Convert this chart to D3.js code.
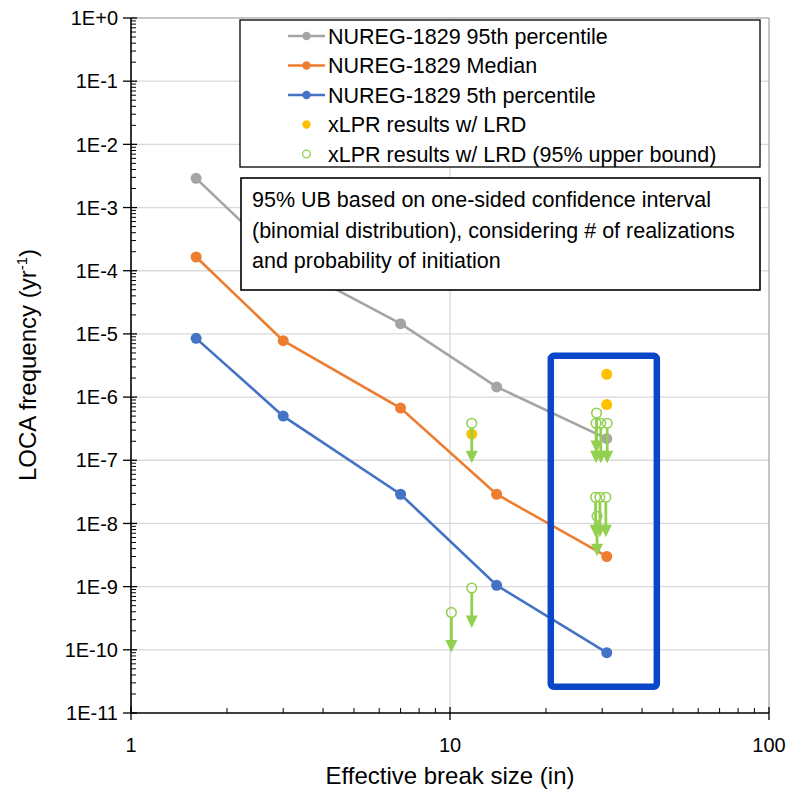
<!DOCTYPE html>
<html>
<head>
<script src="https://cdnjs.cloudflare.com/ajax/libs/d3/7.8.5/d3.min.js"></script>
<style>
  body { margin: 0; background: #fff; }
  svg text { font-family: "Liberation Sans", Arial, sans-serif; fill: #000; }
</style>
</head>
<body>
<script>
// break sizes (in) for the NUREG-1829 curves
var sizes = [1.6, 3, 7, 14, 31];
var p95 = [2.9e-3, 1.4e-4, 1.45e-5, 1.45e-6, 2.2e-7];
var median = [1.65e-4, 7.8e-6, 6.7e-7, 2.9e-8, 3.0e-9];
var p5 = [8.5e-6, 5.0e-7, 2.9e-8, 1.05e-9, 9.0e-11];

// xLPR results w/ LRD
var lrdX = [31, 31, 11.7];
var lrdY = [2.3e-6, 7.6e-7, 2.6e-7];

// xLPR 95% upper bounds (drawn with a downward arrow)
var ubX = [28.8, 28.7, 29.7, 31.1, 28.6, 29.5, 30.8, 28.9, 11.7, 11.7, 10.1];
var ubY = [5.6e-7, 3.85e-7, 3.85e-7, 3.85e-7, 2.6e-8, 2.6e-8, 2.6e-8, 1.3e-8, 3.85e-7, 9.5e-10, 3.9e-10];
var arrowFactor = 4.3;

// highlight box (data coords)
var boxX = [20.7, 44.5];
var boxY = [4.5e-6, 2.6e-11];

var yTicks = [1, 1e-1, 1e-2, 1e-3, 1e-4, 1e-5, 1e-6, 1e-7, 1e-8, 1e-9, 1e-10, 1e-11];
var xTicks = [1, 10, 100];

var legendLabels = ["NUREG-1829 95th percentile", "NUREG-1829 Median", "NUREG-1829 5th percentile",
  "xLPR results w/ LRD", "xLPR results w/ LRD (95% upper bound)"];
var noteLines = ["95% UB based on one-sided confidence interval",
  "(binomial distribution), considering # of realizations",
  "and probability of initiation"];

var colors = { p95: "#a5a5a5", median: "#ed7d31", p5: "#4472c4", lrd: "#ffc000", ub: "#92d050" };

var W = 787, H = 794;
var svg = d3.select("body").append("svg").attr("width", W).attr("height", H);

var x = d3.scaleLog().domain([1, 100]).range([131, 769]);
var y = d3.scaleLog().domain([1e-11, 1]).range([713, 18]);

// grid
svg.selectAll(".hgrid").data(yTicks.slice(1, -1)).enter().append("line")
  .attr("x1", x(1)).attr("x2", x(100))
  .attr("y1", d => y(d)).attr("y2", d => y(d))
  .attr("stroke", "#d9d9d9").attr("stroke-width", 1.3);
svg.append("line").attr("x1", x(10)).attr("x2", x(10)).attr("y1", y(1)).attr("y2", y(1e-11))
  .attr("stroke", "#d9d9d9").attr("stroke-width", 1.3);
// top and right edge
svg.append("line").attr("x1", x(1)).attr("x2", x(100)).attr("y1", y(1)).attr("y2", y(1))
  .attr("stroke", "#8c8c8c").attr("stroke-width", 1);
svg.append("line").attr("x1", x(100)).attr("x2", x(100)).attr("y1", y(1)).attr("y2", y(1e-11))
  .attr("stroke", "#8c8c8c").attr("stroke-width", 1);

// minor ticks
var yMinor = [];
for (var e = -11; e < 0; e++) for (var k = 2; k <= 9; k++) yMinor.push(k * Math.pow(10, e));
var xMinor = [];
for (var e2 = 0; e2 < 2; e2++) for (var k2 = 2; k2 <= 9; k2++) xMinor.push(k2 * Math.pow(10, e2));

svg.selectAll(".ymin").data(yMinor).enter().append("line")
  .attr("x1", x(1)).attr("x2", x(1) + 5)
  .attr("y1", d => y(d)).attr("y2", d => y(d))
  .attr("stroke", "#000").attr("stroke-width", 1);
svg.selectAll(".xmin").data(xMinor).enter().append("line")
  .attr("x1", d => x(d)).attr("x2", d => x(d))
  .attr("y1", y(1e-11)).attr("y2", y(1e-11) - 5)
  .attr("stroke", "#000").attr("stroke-width", 1);

// major ticks
svg.selectAll(".ymaj").data(yTicks).enter().append("line")
  .attr("x1", x(1) - 8).attr("x2", x(1) + 6)
  .attr("y1", d => y(d)).attr("y2", d => y(d))
  .attr("stroke", "#000").attr("stroke-width", 1.3);
svg.selectAll(".xmaj").data(xTicks).enter().append("line")
  .attr("x1", d => x(d)).attr("x2", d => x(d))
  .attr("y1", y(1e-11) - 6).attr("y2", y(1e-11) + 7)
  .attr("stroke", "#000").attr("stroke-width", 1.3);

// axis lines
svg.append("line").attr("x1", x(1)).attr("x2", x(1)).attr("y1", y(1)).attr("y2", y(1e-11))
  .attr("stroke", "#000").attr("stroke-width", 1.6);
svg.append("line").attr("x1", x(1)).attr("x2", x(100)).attr("y1", y(1e-11)).attr("y2", y(1e-11))
  .attr("stroke", "#000").attr("stroke-width", 1.6);

// tick labels
svg.selectAll(".ylab").data(yTicks).enter().append("text")
  .attr("x", 118).attr("y", d => y(d)).attr("dy", "0.36em")
  .attr("text-anchor", "end").style("font-size", "20px")
  .text(d => { var p = Math.round(Math.log10(d)); return p === 0 ? "1E+0" : "1E" + p; });
svg.selectAll(".xlab").data(xTicks).enter().append("text")
  .attr("x", d => x(d)).attr("y", 745).attr("dy", "0.36em")
  .attr("text-anchor", "middle").style("font-size", "20px")
  .text(d => d);

// axis titles
svg.append("text").attr("x", x(10)).attr("y", 775).attr("dy", "0.36em")
  .attr("text-anchor", "middle").style("font-size", "24px")
  .text("Effective break size (in)");
var yt = svg.append("text").attr("transform", "translate(36,365) rotate(-90)")
  .attr("text-anchor", "middle").style("font-size", "24px");
yt.append("tspan").text("LOCA frequency (yr");
yt.append("tspan").attr("dy", "-9").style("font-size", "15px").text("-1");
yt.append("tspan").attr("dy", "9").text(")");

// NUREG curves
var line = d3.line().x(d => x(d[0])).y(d => y(d[1]));
[["p95", p95], ["median", median], ["p5", p5]].forEach(function (s) {
  var pts = sizes.map((v, i) => [v, s[1][i]]);
  svg.append("path").datum(pts).attr("d", line)
    .attr("fill", "none").attr("stroke", colors[s[0]]).attr("stroke-width", 2.6);
  svg.selectAll(".m-" + s[0]).data(pts).enter().append("circle")
    .attr("cx", d => x(d[0])).attr("cy", d => y(d[1])).attr("r", 5.5)
    .attr("fill", colors[s[0]]);
});

// xLPR results
svg.selectAll(".lrd").data(lrdX).enter().append("circle")
  .attr("cx", d => x(d)).attr("cy", (d, i) => y(lrdY[i])).attr("r", 5.5)
  .attr("fill", colors.lrd);

// upper bounds with arrows
var ub = ubX.map((v, i) => [v, ubY[i]]);
var ug = svg.selectAll(".ub").data(ub).enter().append("g");
ug.append("line")
  .attr("x1", d => x(d[0])).attr("x2", d => x(d[0]))
  .attr("y1", d => y(d[1]) + 5).attr("y2", d => y(d[1] / arrowFactor) - 9)
  .attr("stroke", colors.ub).attr("stroke-width", 2.8);
ug.append("path")
  .attr("d", function (d) {
    var cx = x(d[0]), ty = y(d[1] / arrowFactor);
    return "M" + (cx - 6) + "," + (ty - 12.5) + "L" + (cx + 6) + "," + (ty - 12.5) + "L" + cx + "," + ty + "Z";
  })
  .attr("fill", colors.ub);
ug.append("circle")
  .attr("cx", d => x(d[0])).attr("cy", d => y(d[1])).attr("r", 4.8)
  .attr("fill", "none").attr("stroke", colors.ub).attr("stroke-width", 1.6);

// highlight rectangle
svg.append("rect")
  .attr("x", x(boxX[0])).attr("y", y(boxY[0]))
  .attr("width", x(boxX[1]) - x(boxX[0])).attr("height", y(boxY[1]) - y(boxY[0]))
  .attr("rx", 3).attr("fill", "none").attr("stroke", "#0a46c8").attr("stroke-width", 6.5);

// note box
svg.append("rect").attr("x", 241).attr("y", 178).attr("width", 519).attr("height", 112)
  .attr("fill", "#fff").attr("stroke", "#000").attr("stroke-width", 1.6);
svg.selectAll(".note").data(noteLines).enter().append("text")
  .attr("x", 252).attr("y", (d, i) => 207 + i * 30.5)
  .style("font-size", "21.5px").text(d => d);

// legend
svg.append("rect").attr("x", 240).attr("y", 20).attr("width", 520).attr("height", 147)
  .attr("fill", "#fff").attr("stroke", "#000").attr("stroke-width", 1.3);
var lg = svg.selectAll(".leg").data(legendLabels).enter().append("g")
  .attr("transform", (d, i) => "translate(0," + (36 + i * 29.5) + ")");
lg.append("text").attr("x", 328).attr("dy", "0.36em").style("font-size", "21.5px").text(d => d);
var lineKeys = ["p95", "median", "p5"];
lg.filter((d, i) => i < 3).append("line")
  .attr("x1", 288).attr("x2", 325).attr("stroke", (d, i) => colors[lineKeys[i]]).attr("stroke-width", 2.6);
lg.filter((d, i) => i < 3).append("circle")
  .attr("cx", 306.5).attr("r", 4.2).attr("fill", (d, i) => colors[lineKeys[i]]);
lg.filter((d, i) => i === 3).append("circle").attr("cx", 306.5).attr("r", 4.2).attr("fill", colors.lrd);
lg.filter((d, i) => i === 4).append("circle").attr("cx", 306.5).attr("r", 3.8)
  .attr("fill", "none").attr("stroke", colors.ub).attr("stroke-width", 1.3);
</script>
</body>
</html>
